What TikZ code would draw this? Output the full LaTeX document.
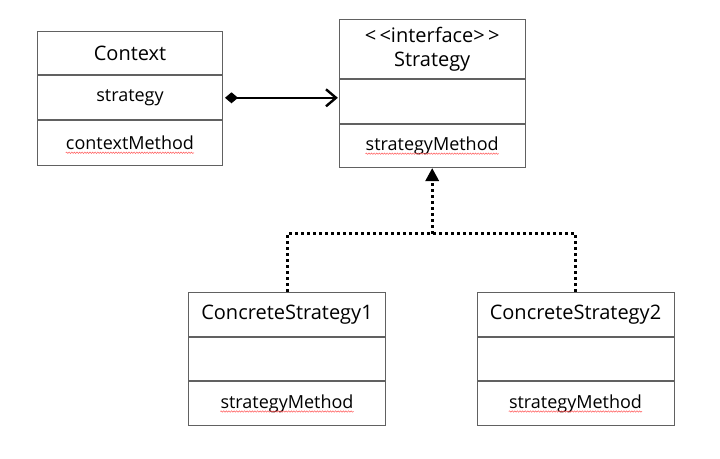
\documentclass[tikz,border=0pt]{standalone}
\usepackage{fontspec}
\setmainfont{Open Sans}
\usetikzlibrary{arrows.meta,decorations.pathmorphing,calc}
\begin{document}
\begin{tikzpicture}[x=1pt,y=-1pt,
  cell/.style={draw=black!62, line width=1pt, rectangle, inner sep=0pt, anchor=north,
    font=\fontsize{18}{21}\selectfont},
  titlecell/.style={cell, font=\fontsize{20}{24}\selectfont, align=center},
  txt/.style={inner sep=0pt, font=\fontsize{18}{21}\selectfont},
  spell/.style={draw=red!65, line width=0.5pt, decorate,
    decoration={snake, amplitude=0.7pt, segment length=2.6pt}},
  comp/.style={draw=black, line width=2.4pt,
    {Diamond[length=13pt,width=11pt]}-{Straight Barb[length=10pt,width=17pt,line width=2.4pt]}},
  real/.style={draw=black, line width=3pt, dash pattern=on 3pt off 3pt},
  realtip/.style={real, -{Triangle[length=13pt,width=13pt]}}
]
\useasboundingbox (0,0) rectangle (720,458);

% Context
\node[titlecell, minimum width=185pt, minimum height=43.6pt] (ctxT) at (130,30.7) {Context};
\node[cell, minimum width=185pt, minimum height=44pt] (ctxA) at (ctxT.south) {strategy};
\node[cell, minimum width=185pt, minimum height=44.4pt] (ctxM) at (ctxA.south) {};
\node[txt] (ctxMt) at (ctxM) {contextMethod};

% Strategy
\node[titlecell, minimum width=185.7pt, minimum height=59pt] (stT) at (432.2,19.3)
  {\textless\,\textless interface\textgreater\,\textgreater\\Strategy};
\node[cell, minimum width=185.7pt, minimum height=43.7pt] (stA) at (stT.south) {};
\node[cell, minimum width=185.7pt, minimum height=43pt] (stM) at (stA.south) {};
\node[txt] (stMt) at (stM) {strategyMethod};

% ConcreteStrategy1
\node[titlecell, minimum width=197.4pt, minimum height=44.3pt] (c1T) at (287,291.7) {ConcreteStrategy1};
\node[cell, minimum width=197.4pt, minimum height=43.3pt] (c1A) at (c1T.south) {};
\node[cell, minimum width=197.4pt, minimum height=44pt] (c1M) at (c1A.south) {};
\node[txt] (c1Mt) at (c1M) {strategyMethod};

% ConcreteStrategy2
\node[titlecell, minimum width=197pt, minimum height=44.3pt] (c2T) at (575.5,291.7) {ConcreteStrategy2};
\node[cell, minimum width=197pt, minimum height=43.3pt] (c2A) at (c2T.south) {};
\node[cell, minimum width=197pt, minimum height=44pt] (c2M) at (c2A.south) {};
\node[txt] (c2Mt) at (c2M) {strategyMethod};

% spell-check underlines
\foreach \n in {ctxMt,stMt,c1Mt,c2Mt}
  \draw[spell] ($(\n.base west)+(0,3)$) -- ($(\n.base east)+(0,3)$);

% composition
\draw[comp] ([xshift=2pt]ctxA.east) -- ([xshift=-1pt]ctxA.east -| stA.west);

% realization
\coordinate (jn) at ($(stM.south)+(0,65.7)$);
\draw[real] (c1T.north) |- (jn) -| (c2T.north);
\draw[realtip] (jn) -- (stM.south);
\end{tikzpicture}
\end{document}
